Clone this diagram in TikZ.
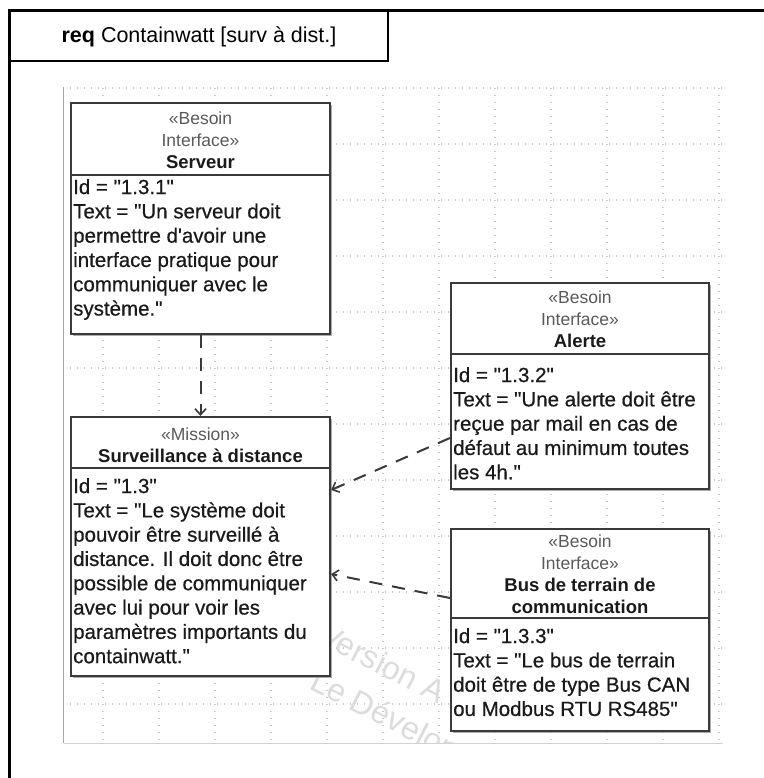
\documentclass[tikz,border=0pt]{standalone}
\usepackage{fontspec}
\setmainfont{Liberation Sans}
\newfontfamily\heavyfont{Liberation Sans}[FakeBold=0.5]
\usetikzlibrary{arrows.meta,shadows,calc}
\definecolor{boxline}{HTML}{3A3A3A}
\definecolor{bodytxt}{HTML}{1A1A1A}
\definecolor{stereotxt}{HTML}{5A5A5A}
\definecolor{gridcol}{HTML}{C8C8C8}
\definecolor{wmark}{HTML}{DCDCDC}
\newcommand{\stereo}[1]{\textcolor{stereotxt}{\fontsize{17.5}{22}\selectfont #1}}
\newcommand{\dq}{\symbol{34}}
\newcommand{\sq}{\symbol{39}}
\tikzset{
  reqbox/.style={draw=boxline, line width=2.2pt, fill=white,
    drop shadow={shadow xshift=1.6pt, shadow yshift=-1.6pt, fill=black!40, opacity=0.8},
    inner sep=0pt, rectangle},
  sepline/.style={draw=boxline, line width=2pt},
  hdrtext/.style={inner sep=0pt, align=center, text=bodytxt,
    font=\fontsize{18.5}{22}\selectfont},
  bodytext/.style={inner sep=0pt, align=left, text=bodytxt, anchor=north west,
    font=\heavyfont\fontsize{20.5}{24.3}\selectfont},
  depline/.style={draw=boxline, line width=2pt, dash pattern=on 13pt off 10pt,
    -{Straight Barb[length=6pt,width=11pt,line width=1.6pt]}},
  gridline/.style={draw=gridcol, line width=1.3pt, dash pattern=on 1.3pt off 5.7pt},
  framelineA/.style={draw=black, line width=3pt},
  framelineB/.style={draw=black, line width=2.2pt},
  wmtext/.style={text=wmark, font=\fontsize{32}{34}\selectfont, rotate=-27, inner sep=0pt}
}
\begin{document}
\begin{tikzpicture}[x=1pt,y=-1pt]
\useasboundingbox (0,0) rectangle (763,778);
\fill[white] (0,0) rectangle (763,778);
% outer frame
\draw[framelineA] (9.5,790) -- (9.5,10.5) -- (780,10.5);
\draw[framelineB] (9.5,61) -- (388,61) -- (388,10.5);
\node[inner sep=0pt, font=\fontsize{21.5}{24}\selectfont] (title) at (199,37)
  {\textbf{req} Containwatt [surv à dist.]};
% diagram canvas
\begin{scope}
\clip (63,87) rectangle (723,743);
\foreach \gx in {103,159,...,719} \draw[gridline] (\gx,88) -- (\gx,743);
\foreach \gy in {88,144,...,740} \draw[gridline] (63,\gy) -- (723,\gy);
\node[wmtext, anchor=base west] (wm1) at (316,642) {Version A};
\node[wmtext, anchor=base west] (wm2) at (308,688) {Le Dévelop};
\end{scope}
\draw[gray!70, line width=1pt] (63.5,87) -- (63.5,743);
\draw[gray!35, line width=1pt] (63.5,743) -- (723,743);
% Serveur
\node[reqbox, minimum width=259pt, minimum height=231pt] (srv) at (200.5,218.5) {};
\draw[sepline] ([yshift=-73pt]srv.north west) -- ([yshift=-73pt]srv.north east);
\node[hdrtext] (srvh) at (200.5,140) {\stereo{«Besoin}\\\stereo{Interface»}\\\textbf{Serveur}};
\node[bodytext] (srvb) at (73,179) {Id = \dq1.3.1\dq\\Text = \dq Un serveur doit\\permettre d\sq avoir une\\interface pratique pour\\communiquer avec le\\système.\dq};
% Surveillance
\node[reqbox, minimum width=259pt, minimum height=259pt] (surv) at (200.5,546.5) {};
\draw[sepline] ([yshift=-52pt]surv.north west) -- ([yshift=-52pt]surv.north east);
\node[hdrtext] (survh) at (200.5,445) {\stereo{«Mission»}\\\textbf{Surveillance à distance}};
\node[bodytext] (survb) at (73,478) {Id = \dq1.3\dq\\Text = \dq Le système doit\\pouvoir être surveillé à\\distance. Il doit donc être\\possible de communiquer\\avec lui pour voir les\\paramètres importants du\\containwatt.\dq};
% Alerte
\node[reqbox, minimum width=258pt, minimum height=206pt] (alt) at (580,386) {};
\draw[sepline] ([yshift=-72pt]alt.north west) -- ([yshift=-72pt]alt.north east);
\node[hdrtext] (alth) at (580,319) {\stereo{«Besoin}\\\stereo{Interface»}\\\textbf{Alerte}};
\node[bodytext] (altb) at (453,367) {Id = \dq1.3.2\dq\\Text = \dq Une alerte doit être\\reçue par mail en cas de\\défaut au minimum toutes\\les 4h.\dq};
% Bus
\node[reqbox, minimum width=258pt, minimum height=202pt] (bus) at (580,630) {};
\draw[sepline] ([yshift=-90pt]bus.north west) -- ([yshift=-90pt]bus.north east);
\node[hdrtext] (bush) at (580,574) {\stereo{«Besoin}\\\stereo{Interface»}\\\textbf{Bus de terrain de}\\\textbf{communication}};
\node[bodytext] (busb) at (453,628) {Id = \dq1.3.3\dq\\Text = \dq Le bus de terrain\\doit être de type Bus CAN\\ou Modbus RTU RS485\dq};
% dependencies
\draw[depline] (srv.south) -- (surv.north);
\draw[depline] ($(alt.west)+(0,52)$) -- ($(surv.east)+(0,-56.5)$);
\draw[depline] ($(bus.west)+(0,-32)$) -- ($(surv.east)+(0,27.5)$);
\end{tikzpicture}
\end{document}
